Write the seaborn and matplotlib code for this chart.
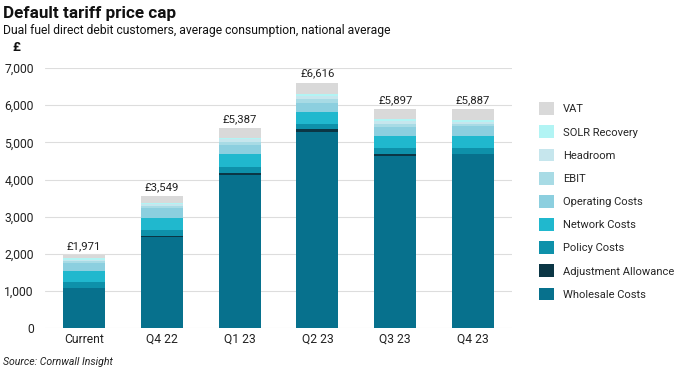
import numpy as np
import pandas as pd
import matplotlib
matplotlib.use("Agg")
import matplotlib.pyplot as plt
from matplotlib.patches import Patch
from matplotlib.ticker import FuncFormatter
import seaborn as sns

# --- data (£ per year) ---
periods = ["Current", "Q4 22", "Q1 23", "Q2 23", "Q3 23", "Q4 23"]
totals = [1971, 3549, 5387, 6616, 5897, 5887]

wholesale = [1070, 2450, 4120, 5290, 4630, 4680]
adjustment = [0, 40, 60, 65, 55, 0]
policy = [170, 150, 160, 145, 170, 170]
network = [290, 330, 360, 330, 320, 330]
operating = [230, 260, 225, 240, 250, 250]
ebit = [40, 60, 75, 90, 70, 77]
headroom = [27, 40, 80, 85, 71, 50]
solr = [50, 50, 50, 50, 50, 50]
vat = [94, 169, 257, 315, 281, 280]

components = ["Wholesale Costs", "Adjustment Allowance", "Policy Costs", "Network Costs",
              "Operating Costs", "EBIT", "Headroom", "SOLR Recovery", "VAT"]
values = [wholesale, adjustment, policy, network, operating, ebit, headroom, solr, vat]
colors = ["#07718d", "#0b3645", "#0e91aa", "#20b8ce", "#8ccfdf",
          "#a8dbe5", "#c6e6ed", "#b2f4f4", "#d9d9d9"]

df = pd.DataFrame(np.array(values).T, index=periods, columns=components)
cum = df.cumsum(axis=1)

sns.set_style("white")
plt.rcParams["font.family"] = ["Roboto", "DejaVu Sans"]

fig = plt.figure(figsize=(6.8, 3.72), dpi=100)
ax = fig.add_axes([0.066, 0.118, 0.687, 0.699])

# stacked bars: draw the running totals from the top layer down
for comp, col in reversed(list(zip(components, colors))):
    sns.barplot(x=cum.index, y=cum[comp].values, color=col, saturation=1,
                width=0.54, ax=ax, zorder=2, linewidth=0, edgecolor="none")

for i, t in enumerate(totals):
    ax.text(i, t + 110, f"£{t:,}", ha="center", va="bottom", fontsize=8.2, color="#222222")

ax.set_ylim(0, 7000)
ax.set_xlim(-0.5, 5.5)
ax.set_yticks(range(0, 7001, 1000))
ax.yaxis.set_major_formatter(FuncFormatter(lambda v, p: f"{int(v):,}"))
ax.grid(axis="y", color="#dddddd", linewidth=0.8, zorder=0)
ax.set_axisbelow(True)
sns.despine(ax=ax, left=True, bottom=True)
ax.tick_params(axis="both", length=0, labelsize=8.7, colors="#222222")
ax.tick_params(axis="y", pad=8)
ax.set_xlabel("")
ax.set_ylabel("")

handles = [Patch(facecolor=c, edgecolor="none") for c in colors]
leg = fig.legend(handles[::-1], components[::-1], loc="upper left",
                 bbox_to_anchor=(0.778, 0.752), frameon=False, fontsize=8,
                 handlelength=1.35, handleheight=1.4, labelspacing=0.93, handletextpad=0.8)

fig.text(0.005, 0.965, "Default tariff price cap", fontsize=12.3, fontweight="bold",
         va="center", color="#111111")
fig.text(0.005, 0.918, "Dual fuel direct debit customers, average consumption, national average",
         fontsize=8.7, va="center", color="#111111")
fig.text(0.018, 0.872, "£", fontsize=9.5, va="center", fontweight="bold", color="#111111")
fig.text(0.005, 0.027, "Source: Cornwall Insight", fontsize=7.6, style="italic",
         va="center", color="#222222")

fig.savefig("out.png", dpi=100)
